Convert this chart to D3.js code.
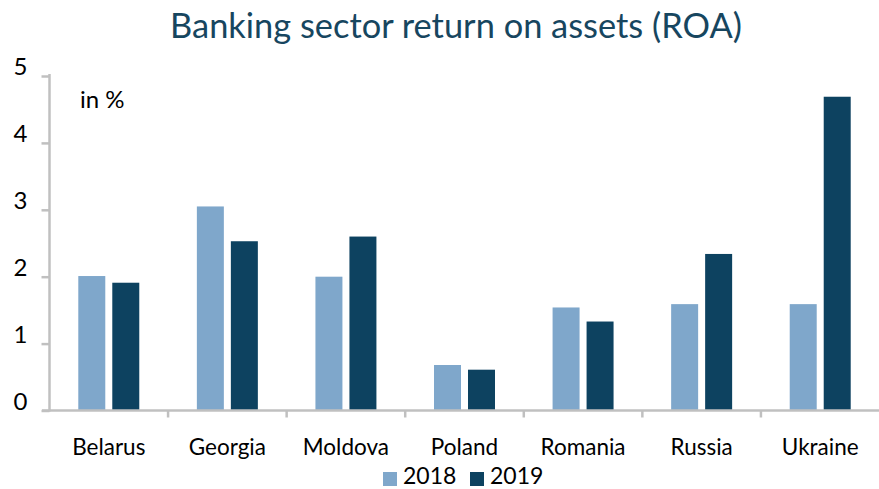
<!DOCTYPE html>
<html><head><meta charset="utf-8">
<script src="https://cdn.jsdelivr.net/npm/d3@7"></script>
<style>body{margin:0;background:#fff}svg{display:block}</style>
</head><body>
<svg id="c" width="879" height="489"></svg>
<script>
const categories = ["Belarus","Georgia","Moldova","Poland","Romania","Russia","Ukraine"];
const series = ["2018","2019"];
const values2018 = [2.01, 3.05, 2.00, 0.68, 1.54, 1.59, 1.59];
const values2019 = [1.91, 2.53, 2.60, 0.61, 1.33, 2.34, 4.69];
const yTicks = [0,1,2,3,4,5];
const colors = ["#7fa7cb","#0d4260"];

const font = "Lato, 'Open Sans', sans-serif";
const svg = d3.select("#c");
const x0 = d3.scaleBand().domain(categories).range([49.5, 879.5]);
const x1 = d3.scaleBand().domain(series).range([0, x0.bandwidth()]).paddingInner(0.206).paddingOuter(0.847);
const y = d3.scaleLinear().domain([0,5]).range([410.5, 76]);
const data = categories.map((c,i)=>({c, v:[values2018[i], values2019[i]]}));

// bars
const g = svg.append("g");
data.forEach(d=>{
  series.forEach((s,j)=>{
    g.append("rect")
      .attr("x", x0(d.c)+x1(s))
      .attr("width", x1.bandwidth())
      .attr("y", y(d.v[j]))
      .attr("height", y(0)-y(d.v[j]))
      .attr("fill", colors[j]);
  });
});

// y axis
const yAxis = svg.append("g").attr("transform","translate(49.5,0)")
  .call(d3.axisLeft(y).tickValues(yTicks).tickSize(8).tickPadding(14).tickFormat(d3.format("d")));
yAxis.select(".domain").attr("stroke","#c0c0c0").attr("stroke-width",2.5).attr("d","M0,74V411.5");
yAxis.selectAll(".tick line").attr("stroke","#c0c0c0").attr("stroke-width",2.5);
yAxis.selectAll(".tick text").attr("font-family",font).attr("font-size",24).attr("fill","#000").attr("dy","-0.05em");

// x axis
const xAxisG = svg.append("g");
xAxisG.append("line").attr("x1",42).attr("x2",879).attr("y1",y(0)).attr("y2",y(0))
  .attr("stroke","#c0c0c0").attr("stroke-width",2.5);
categories.slice(1).forEach(c=>{
  xAxisG.append("line").attr("x1",x0(c)).attr("x2",x0(c)).attr("y1",y(0)).attr("y2",y(0)+7)
    .attr("stroke","#c0c0c0").attr("stroke-width",2.5);
});
xAxisG.selectAll("text.cat").data(categories).join("text").attr("class","cat")
  .attr("x",d=>x0(d)+x0.bandwidth()/2).attr("y",455)
  .attr("text-anchor","middle").attr("font-family",font).attr("font-size",22.5).attr("fill","#000")
  .text(d=>d);

// unit
svg.append("text").attr("x",80).attr("y",108).attr("font-family",font).attr("font-size",24).attr("fill","#000").text("in %");

// title
const t = svg.append("text").attr("x",456).attr("y",38).attr("text-anchor","middle")
  .attr("font-family",font).attr("font-size",30).attr("fill","#17465f")
  .text("Banking sector return on assets (ROA)");
const w = t.node().getComputedTextLength();
t.attr("font-size", 30*572/w);

// legend
const leg = [{x:383, s:"2018", c:colors[0]},{x:470, s:"2019", c:colors[1]}];
leg.forEach(l=>{
  svg.append("rect").attr("x",l.x).attr("y",472).attr("width",14).attr("height",14).attr("fill",l.c);
  svg.append("text").attr("x",l.x+20).attr("y",484).attr("font-family",font).attr("font-size",23).attr("fill","#000").text(l.s);
});
</script>
</body></html>
